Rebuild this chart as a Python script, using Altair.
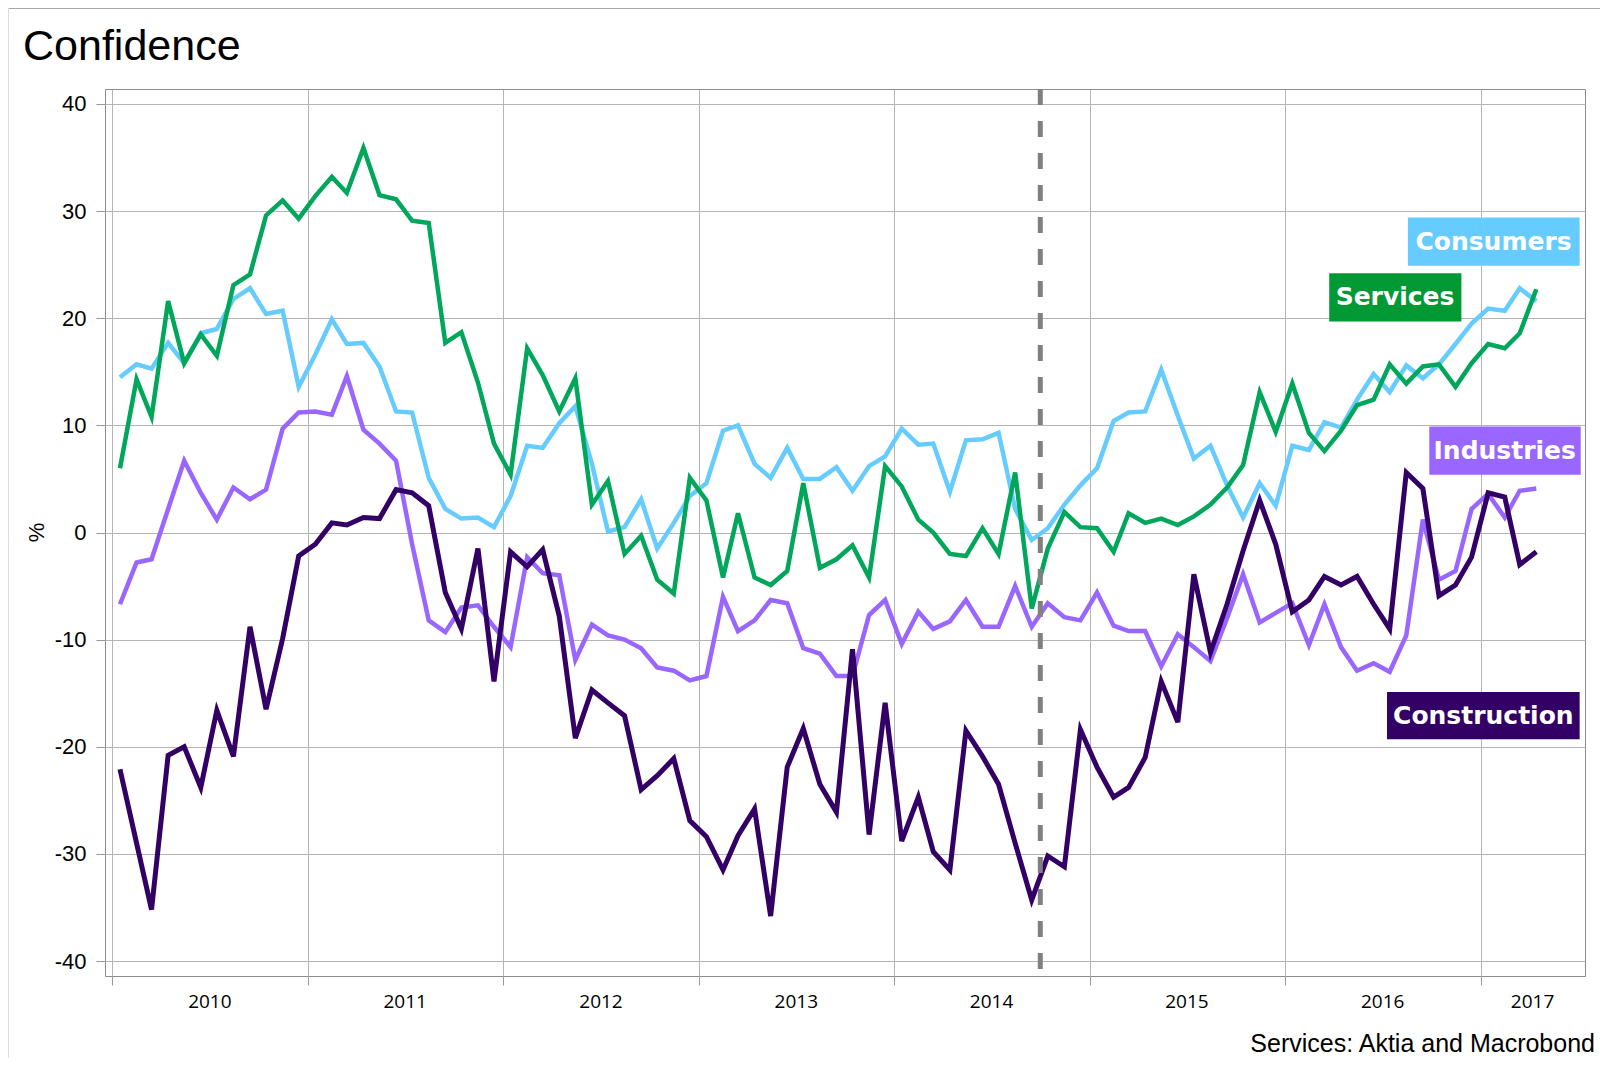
import altair as alt
import pandas as pd

# ---------------- data ----------------
dates = [pd.Timestamp(2010 + k // 12, k % 12 + 1, 15).strftime("%Y-%m-%d") for k in range(88)]

consumers = [14.5, 15.7, 15.3, 17.7, 15.8, 18.6, 19.0, 21.8, 22.8, 20.4, 20.7, 13.6,
             16.6, 19.9, 17.6, 17.7, 15.5, 11.3, 11.2, 5.1, 2.2, 1.3, 1.4, 0.5,
             3.4, 8.1, 7.9, 10.2, 11.8, 6.4, 0.1, 0.5, 3.1, -1.5, 0.9, 3.4,
             4.6, 9.5, 10.0, 6.4, 5.1, 7.9, 5.0, 5.0, 6.1, 3.9, 6.2, 7.1,
             9.7, 8.2, 8.3, 3.8, 8.6, 8.7, 9.3, 2.2, -0.7, 0.4, 2.6, 4.4,
             6.0, 10.4, 11.2, 11.3, 15.2, 10.9, 6.9, 8.1, 4.4, 1.4, 4.6, 2.5,
             8.1, 7.7, 10.3, 9.8, 12.4, 14.8, 13.1, 15.6, 14.4, 15.7, 17.6, 19.5,
             20.9, 20.7, 22.8, 21.6]

services = [6.0, 14.3, 10.8, 21.6, 15.8, 18.5, 16.5, 23.1, 24.1, 29.6, 31.0, 29.3,
            31.4, 33.2, 31.7, 35.9, 31.5, 31.1, 29.1, 28.9, 17.7, 18.7, 14.0, 8.3,
            5.4, 17.2, 14.7, 11.3, 14.4, 2.6, 4.8, -2.0, -0.3, -4.4, -5.7, 5.1,
            3.0, -4.2, 1.8, -4.2, -4.9, -3.6, 4.6, -3.3, -2.5, -1.2, -4.2, 6.2,
            4.3, 1.2, 0.0, -2.0, -2.2, 0.4, -2.0, 5.6, -7.1, -1.5, 1.9, 0.5,
            0.4, -1.8, 1.8, 0.9, 1.3, 0.7, 1.5, 2.6, 4.2, 6.3, 13.1, 9.4,
            13.9, 9.3, 7.6, 9.5, 11.9, 12.4, 15.7, 13.9, 15.5, 15.7, 13.6, 15.8,
            17.6, 17.2, 18.6, 22.7]

industries = [-6.7, -2.8, -2.5, 2.2, 6.7, 3.7, 1.2, 4.2, 3.1, 4.0, 9.7, 11.2,
              11.3, 11.0, 14.6, 9.6, 8.3, 6.7, -1.1, -8.2, -9.3, -7.0, -6.8, -8.8,
              -10.7, -2.3, -3.8, -4.0, -11.9, -8.6, -9.6, -10.0, -10.8, -12.6, -12.9, -13.8,
              -13.4, -6.0, -9.2, -8.2, -6.3, -6.6, -10.8, -11.3, -13.4, -13.4, -7.7, -6.3,
              -10.4, -7.4, -9.0, -8.3, -6.3, -8.8, -8.8, -5.0, -8.8, -6.6, -7.9, -8.2,
              -5.6, -8.7, -9.2, -9.2, -12.5, -9.5, -10.7, -12.0, -8.0, -3.9, -8.4, -7.5,
              -6.6, -10.5, -6.7, -10.7, -12.9, -12.2, -13.0, -9.6, 1.2, -4.4, -3.6, 2.2,
              3.6, 1.4, 3.9, 4.1]

construction = [-22.1, -29.0, -35.2, -20.8, -20.0, -23.8, -16.6, -20.9, -8.8, -16.5, -9.9, -2.2,
                -1.1, 0.9, 0.7, 1.4, 1.3, 4.0, 3.7, 2.5, -5.6, -9.0, -1.5, -13.9,
                -1.8, -3.2, -1.6, -7.8, -19.2, -14.7, -15.9, -17.1, -24.0, -22.7, -21.1, -26.9,
                -28.4, -31.5, -28.3, -25.8, -35.8, -21.9, -18.3, -23.5, -26.1, -10.9, -28.2, -15.9,
                -28.8, -24.7, -29.8, -31.5, -18.5, -20.9, -23.5, -29.0, -34.3, -30.2, -31.2, -18.4,
                -21.9, -24.7, -23.8, -21.0, -13.9, -17.7, -3.9, -11.2, -6.7, -1.7, 3.0, -1.1,
                -7.4, -6.3, -4.1, -4.9, -4.1, -6.7, -9.0, 5.6, 4.1, -5.9, -4.9, -2.3,
                3.7, 3.3, -3.0, -1.8]

series_names = ["Consumers", "Services", "Industries", "Construction"]
series_values = [consumers, services, industries, construction]
line_colors = ["#66CCFF", "#00A65A", "#9966FF", "#330066"]
line_widths = [4.5, 4.5, 4.5, 5]

# label boxes (annotation)
box_start = ["2016-08-18", "2016-03-24", "2016-09-27", "2016-07-10"]
box_end = ["2017-07-05", "2016-11-26", "2017-07-07", "2017-07-05"]
box_low = [24.9, 19.7, 5.4, -19.3]
box_high = [29.4, 24.2, 9.9, -14.9]
box_fill = ["#66CCFF", "#009933", "#9966FF", "#330066"]

year_labels = ["2010", "2011", "2012", "2013", "2014", "2015", "2016", "2017"]
year_label_dates = ["2010-07-02", "2011-07-02", "2012-07-02", "2013-07-02",
                    "2014-07-02", "2015-07-02", "2016-07-02", "2017-04-08"]

event_date = ["2014-10-01"]

# ---------------- tables ----------------
rows = []
for name, vals in zip(series_names, series_values):
    for d, v in zip(dates, vals):
        rows.append({"series": name, "date": d, "value": v})
df = pd.DataFrame(rows)

boxes = pd.DataFrame({"label": series_names, "date": box_start, "date2": box_end,
                      "value": box_low, "value2": box_high, "fill": box_fill})
s = pd.to_datetime(boxes["date"])
e = pd.to_datetime(boxes["date2"])
boxes["mid"] = (s + (e - s) / 2).dt.strftime("%Y-%m-%d")
boxes["midv"] = (boxes["value"] + boxes["value2"]) / 2

years = pd.DataFrame({"label": year_labels, "date": year_label_dates})
event = pd.DataFrame({"date": event_date})

# ---------------- scales / axes ----------------
W, H = 1480, 887
FONT = "Liberation Sans"

xs = alt.Scale(type="utc", domain=[alt.DateTime(year=2009, month=12, date=18, utc=True),
                                   alt.DateTime(year=2017, month=7, date=15, utc=True)])
ys = alt.Scale(domain=[-41.4, 41.4], nice=False, zero=False)

xaxis = alt.Axis(values=[alt.DateTime(year=y, month=1, date=1, utc=True) for y in range(2010, 2018)],
                 labels=False, grid=True, ticks=True, tickSize=9, domain=False, title=None)
yaxis = alt.Axis(values=list(range(-40, 41, 10)), labelExpr="'' + datum.value",
                 grid=True, ticks=True, tickSize=9, domain=False, labelPadding=10,
                 labelFont=FONT, labelFontSize=22, labelColor="#000000",
                 title="%", titleFont=FONT, titleFontSize=22, titleFontWeight="normal",
                 titleColor="#000000", titleAngle=270, titleX=-69, titleY=443,
                 titleAlign="center", titleBaseline="middle")

X = lambda f="date": alt.X(f"{f}:T", scale=xs, axis=xaxis)
Y = lambda f="value": alt.Y(f"{f}:Q", scale=ys, axis=yaxis)

layers = []
for name, col, wd in zip(series_names, line_colors, line_widths):
    layers.append(
        alt.Chart(df).transform_filter(alt.datum.series == name)
        .mark_line(color=col, strokeWidth=wd)
        .encode(x=X(), y=Y())
    )

dash = alt.Chart(event).mark_rule(color="#808080", strokeWidth=5, strokeDash=[16, 16]).encode(
    x=X(), y=alt.value(0), y2=alt.value(H))

rects = alt.Chart(boxes).mark_rect().encode(
    x=X(), x2="date2:T", y=Y(), y2="value2:Q",
    fill=alt.Fill("fill:N", scale=None))

texts = alt.Chart(boxes).mark_text(font="DejaVu Sans", fontSize=25, fontWeight="bold",
                                   color="white", align="center", baseline="middle").encode(
    x=X("mid"), y=Y("midv"), text="label:N")

yr = alt.Chart(years).mark_text(font="Open Sans", fontSize=19, color="#000000",
                                align="center", baseline="alphabetic").encode(
    x=X(), y=alt.value(919), text="label:N")

title = alt.Chart(pd.DataFrame({"t": ["Confidence"]})).mark_text(
    font=FONT, fontSize=43, color="#000000", align="left", baseline="alphabetic").encode(
    x=alt.value(-82), y=alt.value(-29), text="t:N")

footer = alt.Chart(pd.DataFrame({"t": ["Services: Aktia and Macrobond"]})).mark_text(
    font=FONT, fontSize=25, color="#000000", align="right", baseline="alphabetic").encode(
    x=alt.value(W + 10), y=alt.value(963), text="t:N")

frame_top = alt.Chart(pd.DataFrame({"a": [0]})).mark_rule(color="#a8a8a8", strokeWidth=1).encode(
    x=alt.value(-97), x2=alt.value(W + 20), y=alt.value(-80.5))
frame_left = alt.Chart(pd.DataFrame({"a": [0]})).mark_rule(color="#dcdcdc", strokeWidth=1).encode(
    x=alt.value(-96.5), y=alt.value(-81), y2=alt.value(H + 90))

chart = alt.layer(*layers, dash, rects, texts, yr, title, footer, frame_top, frame_left).properties(
    width=W, height=H,
    padding={"left": 97, "top": 81, "right": 15, "bottom": 82},
    autosize=alt.AutoSizeParams(type="none"),
    background="white",
).configure_view(stroke="#8c8c8c", strokeWidth=1).configure_axis(
    gridColor="#b4b4b4", gridWidth=1, tickColor="#9a9a9a", tickWidth=1)

chart.save("out.html", embed_options={"renderer": "svg", "actions": False})
